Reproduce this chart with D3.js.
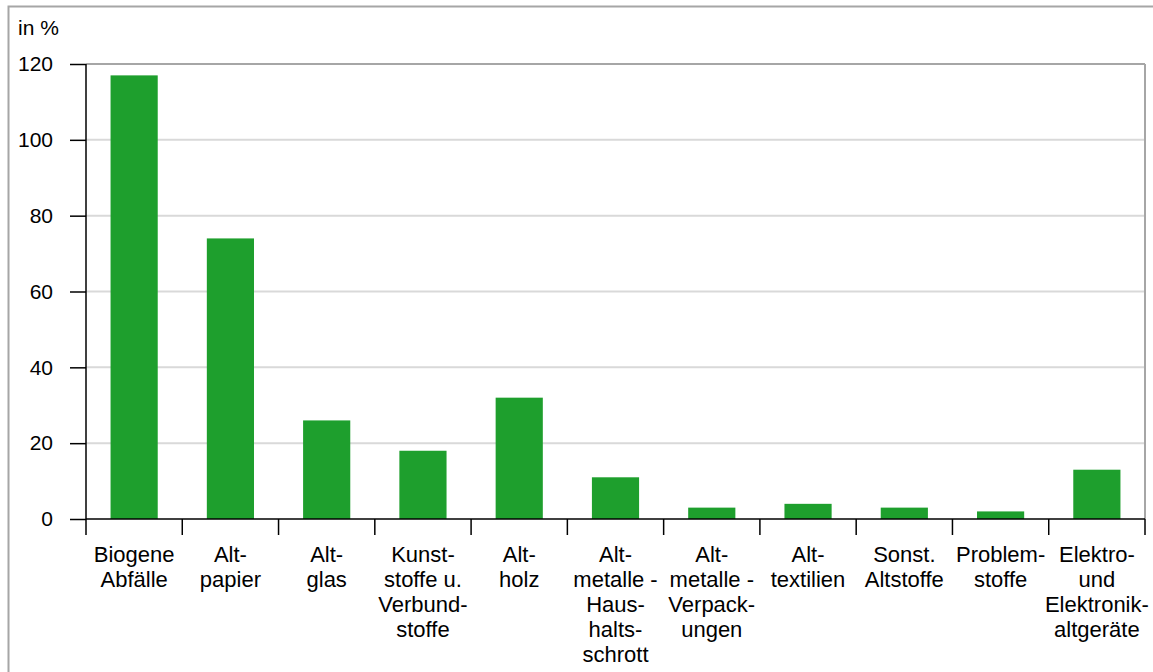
<!DOCTYPE html>
<html>
<head>
<meta charset="utf-8">
<script src="https://cdn.jsdelivr.net/npm/d3@7"></script>
<style>
  body { margin: 0; background: #fff; }
  svg { display: block; font-family: "Liberation Sans", Arial, sans-serif; }
</style>
</head>
<body>
<div id="chart"></div>
<script>
// categories (label lines) and values in %
const categories = [
  ["Biogene", "Abfälle"],
  ["Alt-", "papier"],
  ["Alt-", "glas"],
  ["Kunst-", "stoffe u.", "Verbund-", "stoffe"],
  ["Alt-", "holz"],
  ["Alt-", "metalle -", "Haus-", "halts-", "schrott"],
  ["Alt-", "metalle -", "Verpack-", "ungen"],
  ["Alt-", "textilien"],
  ["Sonst.", "Altstoffe"],
  ["Problem-", "stoffe"],
  ["Elektro-", "und", "Elektronik-", "altgeräte"]
];
const values = [117, 74, 26, 18, 32, 11, 3, 4, 3, 2, 13];
const yTicks = [0, 20, 40, 60, 80, 100, 120];

const width = 1153, height = 672;
const margin = { top: 64, right: 8, bottom: 153, left: 86 };

const svg = d3.select("#chart").append("svg")
  .attr("width", width)
  .attr("height", height);

// outer frame
svg.append("rect")
  .attr("x", 8.5).attr("y", 6.5)
  .attr("width", 1160).attr("height", 700)
  .attr("fill", "none")
  .attr("stroke", "#a6a6a6")
  .attr("stroke-width", 2);

const idx = categories.map((d, i) => i);
const x = d3.scaleBand()
  .domain(idx)
  .range([margin.left, width - margin.right])
  .paddingInner(0.51)
  .paddingOuter(0.255);

const y = d3.scaleLinear()
  .domain([0, 120])
  .range([height - margin.bottom, margin.top]);

// gridlines
svg.append("g")
  .selectAll("line")
  .data(yTicks.filter(d => d > 0))
  .join("line")
  .attr("x1", margin.left)
  .attr("x2", width - margin.right)
  .attr("y1", d => y(d))
  .attr("y2", d => y(d))
  .attr("stroke", d => d === 120 ? "#a6a6a6" : "#d9d9d9")
  .attr("stroke-width", 2);

// right border of plot
svg.append("line")
  .attr("x1", width - margin.right).attr("x2", width - margin.right)
  .attr("y1", y(120)).attr("y2", y(0))
  .attr("stroke", "#a6a6a6")
  .attr("stroke-width", 2);

// bars
svg.append("g")
  .selectAll("rect")
  .data(values)
  .join("rect")
  .attr("x", (d, i) => x(i))
  .attr("y", d => y(d))
  .attr("width", x.bandwidth())
  .attr("height", d => y(0) - y(d))
  .attr("fill", "#1e9f2d");

// y axis
const yAxis = svg.append("g")
  .attr("transform", `translate(${margin.left},0)`)
  .call(d3.axisLeft(y).tickValues(yTicks).tickSize(16).tickPadding(17));
yAxis.selectAll("text")
  .attr("font-size", 21)
  .attr("font-family", "Liberation Sans, Arial, sans-serif")
  .attr("fill", "#000");
yAxis.selectAll("line").attr("stroke", "#000").attr("stroke-width", 1.5);
yAxis.select(".domain").attr("stroke", "#000").attr("stroke-width", 1.5)
  .attr("d", `M0,${y(0)}V${y(120)}`);

// x axis: ticks at category boundaries
const step = x.step();
const bounds = d3.range(categories.length + 1).map(i => margin.left + i * step);
svg.append("line")
  .attr("x1", margin.left).attr("x2", width - margin.right)
  .attr("y1", y(0)).attr("y2", y(0))
  .attr("stroke", "#000").attr("stroke-width", 1.5);
svg.append("g")
  .selectAll("line")
  .data(bounds)
  .join("line")
  .attr("x1", d => d).attr("x2", d => d)
  .attr("y1", y(0)).attr("y2", y(0) + 16)
  .attr("stroke", "#000").attr("stroke-width", 1.5);

// category labels
const labels = svg.append("g")
  .selectAll("text")
  .data(categories)
  .join("text")
  .attr("text-anchor", "middle")
  .attr("font-size", 22)
  .attr("fill", "#000")
  .attr("transform", (d, i) => `translate(${x(i) + x.bandwidth() / 2},${y(0) + 43})`);
labels.selectAll("tspan")
  .data(d => d)
  .join("tspan")
  .attr("x", 0)
  .attr("y", (d, i) => i * 25)
  .text(d => d);

// unit label
svg.append("text")
  .attr("x", 18).attr("y", 35)
  .attr("font-size", 21)
  .attr("fill", "#000")
  .text("in %");
</script>
</body>
</html>
